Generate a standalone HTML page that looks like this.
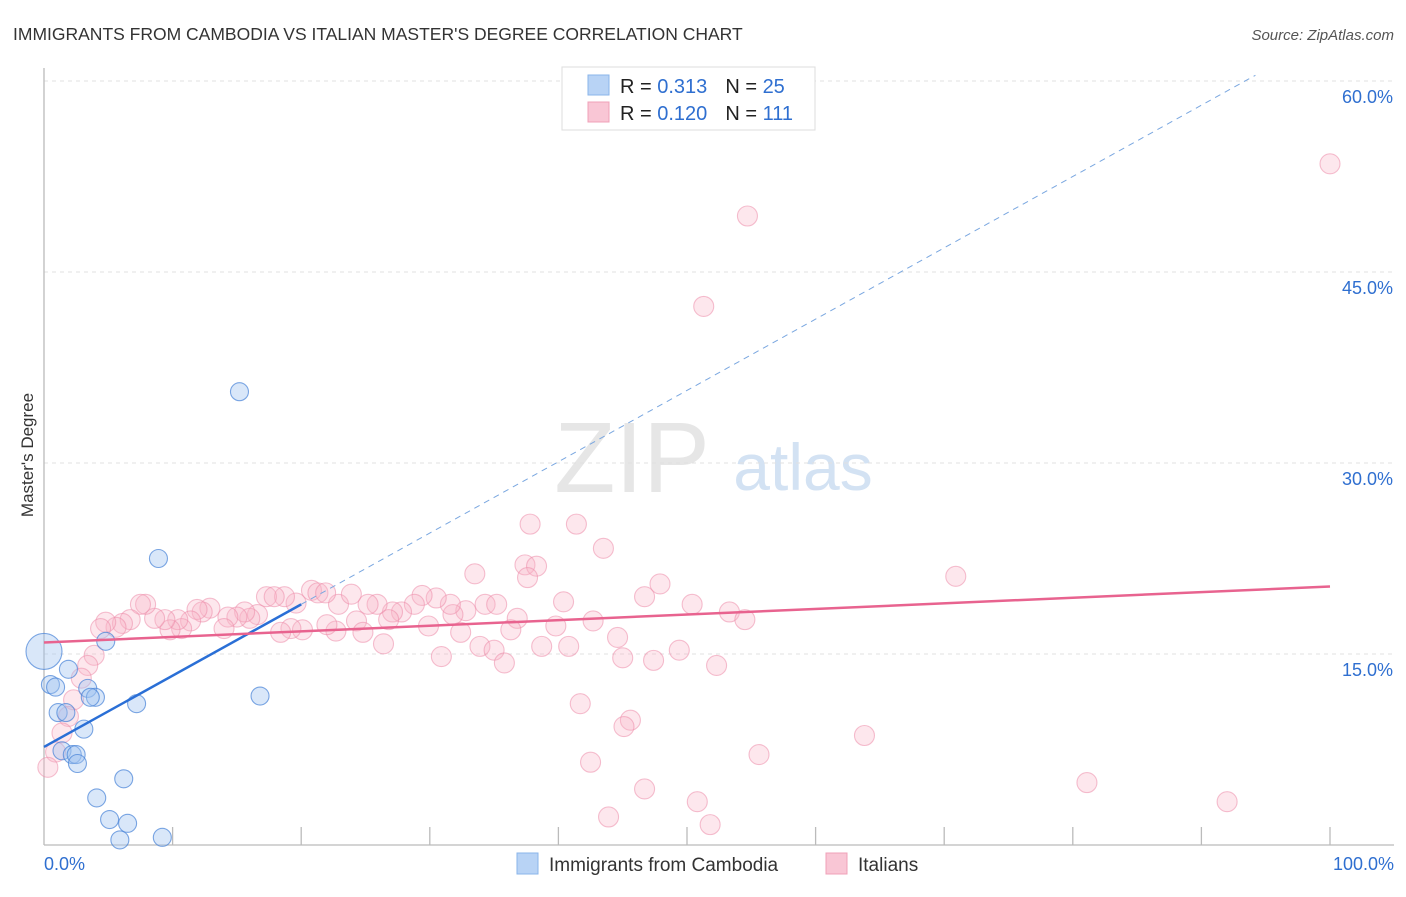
<!DOCTYPE html>
<html><head><meta charset="utf-8"><style>
body{margin:0;background:#fff;font-family:"Liberation Sans",sans-serif;}
svg text{font-family:"Liberation Sans",sans-serif;}
</style></head><body>
<svg id="chart" width="1406" height="892" xmlns="http://www.w3.org/2000/svg">
<text x="13" y="40" font-size="17.5" fill="#333">IMMIGRANTS FROM CAMBODIA VS ITALIAN MASTER'S DEGREE CORRELATION CHART</text>
<text x="1394" y="40" font-size="15" fill="#555" text-anchor="end" font-style="italic">Source: ZipAtlas.com</text>
<text transform="translate(33,455) rotate(-90)" font-size="17" fill="#333" text-anchor="middle">Master's Degree</text>
<g>
<text x="632" y="492" font-size="100" fill="#e6e6e6" text-anchor="middle" font-family="Liberation Serif,serif">ZIP</text>
<text x="803" y="490" font-size="66" fill="#d3e2f3" text-anchor="middle">atlas</text>
</g>
<g id="grid"></g>
<g id="axes"></g>
<g id="marks"></g>
<g>
<rect x="562" y="67" width="253" height="63" fill="#fff" stroke="#ddd"/>
<rect x="588" y="75" width="21" height="20" fill="#b8d3f5" stroke="#8ab4ea"/>
<rect x="588" y="102" width="21" height="20" fill="#f9c6d5" stroke="#f0a0b8"/>
<text x="620" y="93" font-size="20" fill="#222">R = <tspan fill="#2f6fd0">0.313</tspan><tspan dx="18">N = </tspan><tspan fill="#2f6fd0">25</tspan></text>
<text x="620" y="120" font-size="20" fill="#222">R = <tspan fill="#2f6fd0">0.120</tspan><tspan dx="18">N = </tspan><tspan fill="#2f6fd0">111</tspan></text>
</g>
<g>
<rect x="517" y="853" width="21" height="21" fill="#b8d3f5" stroke="#8ab4ea"/>
<text x="549" y="871" font-size="19" fill="#333">Immigrants from Cambodia</text>
<rect x="826" y="853" width="21" height="21" fill="#f9c6d5" stroke="#f0a0b8"/>
<text x="858" y="871" font-size="19" fill="#333">Italians</text>
</g>
</svg>
<script>
const yTicks=[15,30,45,60];
const yTickLabels=["15.0%","30.0%","45.0%","60.0%"];
const xTicks=[10,20,30,40,50,60,70,80,90,100];
const blueX=[0,0.5,0.9,1.9,1.1,1.7,3.4,4.0,3.1,1.4,2.2,2.5,2.6,4.8,7.2,4.1,6.2,5.1,6.5,5.9,9.2,8.9,15.2,16.8,3.6];
const blueY=[15.2,12.6,12.4,13.8,10.4,10.4,12.3,11.6,9.1,7.4,7.1,7.1,6.4,16.0,11.1,3.7,5.2,2.0,1.7,0.4,0.6,22.5,35.6,11.7,11.6];
const pinkX=[100,54.7,51.3,70.9,37.8,41.4,43.5,33.5,37.4,38.3,37.6,47.9,46.7,50.4,53.3,54.5,40.4,42.7,44.6,39.8,38.7,40.8,45.0,47.4,49.4,52.3,34.3,35.2,36.8,36.3,33.9,35.0,35.8,32.4,30.9,32.8,31.8,31.6,30.5,29.4,28.8,27.8,27.1,26.8,29.9,26.4,25.9,25.2,22.9,23.9,24.3,24.8,22.7,22.0,20.8,21.3,21.9,19.6,20.1,19.2,18.4,18.7,17.3,17.9,16.6,16.0,15.6,15.0,14.3,14.0,12.9,12.3,11.9,11.4,10.7,10.4,9.8,9.4,8.6,7.9,7.5,6.7,6.1,5.6,4.8,4.4,3.9,3.4,2.9,2.3,1.9,1.4,0.9,0.3,41.7,45.6,45.1,42.5,55.6,63.8,81.1,92.0,46.7,50.8,51.8,43.9];
const pinkY=[53.5,49.4,42.3,21.1,25.2,25.2,23.3,21.3,22.0,21.9,21.0,20.5,19.5,18.9,18.3,17.7,19.1,17.6,16.3,17.2,15.6,15.6,14.7,14.5,15.3,14.1,18.9,18.9,17.8,16.9,15.6,15.3,14.3,16.7,14.8,18.4,18.1,18.9,19.4,19.6,18.9,18.3,18.3,17.7,17.2,15.8,18.9,18.9,18.9,19.7,17.6,16.7,16.8,17.3,20.0,19.8,19.8,19.0,16.9,17.0,16.7,19.5,19.5,19.5,18.1,17.8,18.3,17.9,17.9,17.0,18.6,18.3,18.5,17.6,17.0,17.7,16.9,17.7,17.8,18.9,18.9,17.7,17.4,17.1,17.5,17.0,14.9,14.1,13.1,11.4,10.1,8.8,7.3,6.1,11.1,9.8,9.3,6.5,7.1,8.6,4.9,3.4,4.4,3.4,1.6,2.2];
const blueTrend=[7.7,0.56];
const pinkTrend=[15.9,0.044];
const NS='http://www.w3.org/2000/svg';
const X=v=>44+v*12.86, Y=v=>845-v*12.733;
function mk(tag,attrs,parent){const e=document.createElementNS(NS,tag);for(const k in attrs)e.setAttribute(k,attrs[k]);document.getElementById(parent).appendChild(e);return e;}
yTicks.forEach((t,i)=>{
 const g=mk('line',{x1:44,x2:1394,y1:Y(t),y2:Y(t),stroke:'#e0e0e0','stroke-dasharray':'4,4'},'grid');
 
 
 const l=mk('text',{x:1393,y:Y(t)+22,'font-size':18,fill:'#2f6fd0','text-anchor':'end'},'axes');
 l.textContent=yTickLabels[i];
 
 
});
const ax=mk('line',{x1:44,x2:1394,y1:845,y2:845,stroke:'#bbb','stroke-width':1.3},'axes');


const ay=mk('line',{x1:44,x2:44,y1:68,y2:845,stroke:'#bbb','stroke-width':1.3},'axes');


xTicks.forEach(t=>{
 const tk=mk('line',{x1:X(t),x2:X(t),y1:827,y2:845,stroke:'#bbb','stroke-width':1.3},'axes');
 
 
});
const xl0=mk('text',{x:44,y:870,'font-size':18,fill:'#2f6fd0'},'axes');xl0.textContent='0.0%';


const xl1=mk('text',{x:1394,y:870,'font-size':18,fill:'#2f6fd0','text-anchor':'end'},'axes');xl1.textContent='100.0%';


pinkX.forEach((x,i)=>{
 const c=mk('circle',{cx:X(x),cy:Y(pinkY[i]),r:10,fill:'rgba(248,180,200,0.32)',stroke:'rgba(236,140,170,0.55)','stroke-width':1.1},'marks');
 
 
});
blueX.forEach((x,i)=>{
 const c=mk('circle',{cx:X(x),cy:Y(blueY[i]),r:i==0?18:9,fill:'rgba(160,196,240,0.4)',stroke:'rgba(70,130,215,0.7)','stroke-width':1.1},'marks');
 
 
});
const bt=v=>blueTrend[0]+blueTrend[1]*v, pt=v=>pinkTrend[0]+pinkTrend[1]*v;
const bd=mk('line',{x1:X(20),y1:Y(bt(20)),x2:X(94.2),y2:Y(bt(94.2)),stroke:'#7aa7e0','stroke-width':1,'stroke-dasharray':'6,5'},'marks');


const bl=mk('line',{x1:X(0),y1:Y(bt(0)),x2:X(20),y2:Y(bt(20)),stroke:'#2a6fd6','stroke-width':2.5},'marks');


const pl=mk('line',{x1:X(0),y1:Y(pt(0)),x2:X(100),y2:Y(pt(100)),stroke:'#e8638f','stroke-width':2.5},'marks');


</script>
</body></html>
